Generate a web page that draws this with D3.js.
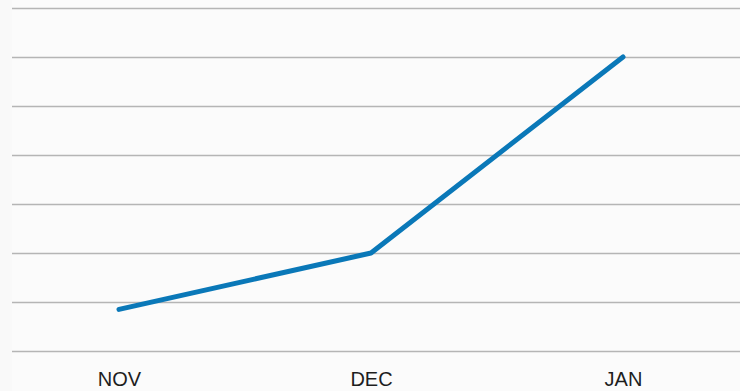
<!DOCTYPE html>
<html><head><meta charset="utf-8">
<script src="https://cdn.jsdelivr.net/npm/d3@7/dist/d3.min.js"></script>
<style>html,body{margin:0;padding:0;background:#f9f9f9;}svg{display:block;}</style>
</head><body>
<svg id="c" width="740" height="391"></svg>
<script>
const categories = ["NOV", "DEC", "JAN"];
const values = [0.85, 2, 6];
const yTicks = [0, 1, 2, 3, 4, 5, 6, 7];

const svg = d3.select("#c");
svg.append("rect").attr("x", 12).attr("y", 0).attr("width", 728).attr("height", 391).attr("fill", "#fbfbfb");

const x = d3.scalePoint().domain(categories).range([119, 623]);
const y = d3.scaleLinear().domain([0, 7]).range([351, 8]);

const yAxis = d3.axisLeft(y).tickValues(yTicks).tickSize(-728).tickFormat("");
const gy = svg.append("g").attr("transform", "translate(12,0)").call(yAxis);
gy.select(".domain").remove();
gy.selectAll(".tick line").attr("stroke", "#b5b5b5").attr("stroke-width", 1.6);

const xAxis = d3.axisBottom(x).tickSize(0).tickPadding(0);
const gx = svg.append("g").attr("transform", "translate(0,370)").call(xAxis);
gx.select(".domain").remove();
gx.selectAll(".tick text")
  .attr("font-family", "'Liberation Sans', Arial, sans-serif")
  .attr("font-size", 20).attr("fill", "#1e1e1e").attr("dy", "0.8em");

const line = d3.line().x((d, i) => x(categories[i])).y(d => y(d));
svg.append("path").datum(values)
  .attr("d", line).attr("fill", "none")
  .attr("stroke", "#0a78b8").attr("stroke-width", 5)
  .attr("stroke-linecap", "round").attr("stroke-linejoin", "round");
</script>
</body></html>
